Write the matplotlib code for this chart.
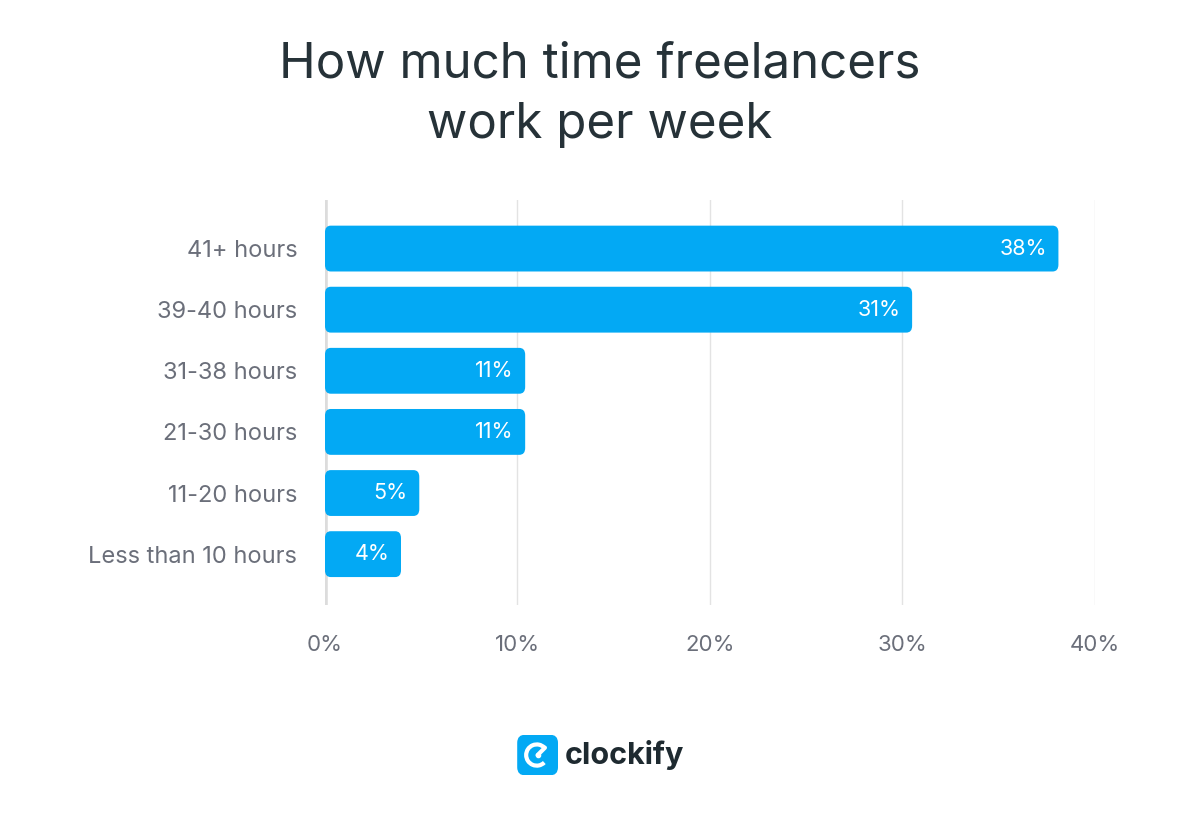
import matplotlib.pyplot as plt
from matplotlib.patches import FancyBboxPatch, Arc
import numpy as np

categories = ["41+ hours", "39-40 hours", "31-38 hours", "21-30 hours",
              "11-20 hours", "Less than 10 hours"]
values = [38.1, 30.5, 10.4, 10.4, 4.9, 3.95]
labels = ["38%", "31%", "11%", "11%", "5%", "4%"]
ticks = [0, 10, 20, 30, 40]

blue = "#03a9f4"
grey_text = "#6b6f7a"

plt.rcParams['font.family'] = ['Inter', 'DejaVu Sans']
fig = plt.figure(figsize=(12, 8.32), dpi=100)
ax = fig.add_axes([0.2708, 0.273, 0.6417, 0.487])

y = np.arange(len(categories))
for yi, v, lab in zip(y, values, labels):
    ax.add_patch(FancyBboxPatch((0, yi - 0.375), v, 0.75,
                                boxstyle="round,pad=0,rounding_size=0.3",
                                mutation_aspect=0.75 / 2.4 * 1.2,
                                fc=blue, ec="none", zorder=3))
    ax.text(v - 0.6, yi, lab, ha="right", va="center", color="white",
            fontsize=15.5, zorder=4)

ax.set_xlim(0, 40)
ax.set_ylim(len(categories) - 0.5 + 0.33, -0.8)
ax.set_yticks(y)
ax.set_yticklabels(categories, fontsize=17, color=grey_text)
ax.set_xticks(ticks)
ax.set_xticklabels([f"{t}%" for t in ticks], fontsize=16, color=grey_text)
ax.tick_params(length=0)
ax.tick_params(axis="x", pad=22)
ax.tick_params(axis="y", pad=20)
ax.grid(axis="x", color="#e3e3e3", lw=1, zorder=0)
for s in ax.spines.values():
    s.set_visible(False)
ax.axvline(0, color="#dcdcdc", lw=4, zorder=2)

fig.text(0.5, 0.886, "How much time freelancers\nwork per week", ha="center",
         va="center", fontsize=35.5, color="#263238", linespacing=1.4)

# logo
lax = fig.add_axes([0.431, 0.068, 0.034, 0.049])
lax.set_xlim(0, 1); lax.set_ylim(0, 1); lax.axis("off")
lax.add_patch(FancyBboxPatch((0, 0), 1, 1, boxstyle="round,pad=0,rounding_size=0.2",
                             fc=blue, ec="none"))
lax.add_patch(Arc((0.48, 0.5), 0.52, 0.52, theta1=45, theta2=315, color="white", lw=3))
lax.plot([0.5, 0.68], [0.5, 0.68], color="white", lw=3, solid_capstyle="round")
lax.plot(0.5, 0.5, "o", color="white", ms=3)
fig.text(0.471, 0.093, "clockify", ha="left", va="center", fontsize=22,
         fontweight="bold", color="#1e2a30")

fig.savefig("out.png", dpi=100, facecolor="white")
